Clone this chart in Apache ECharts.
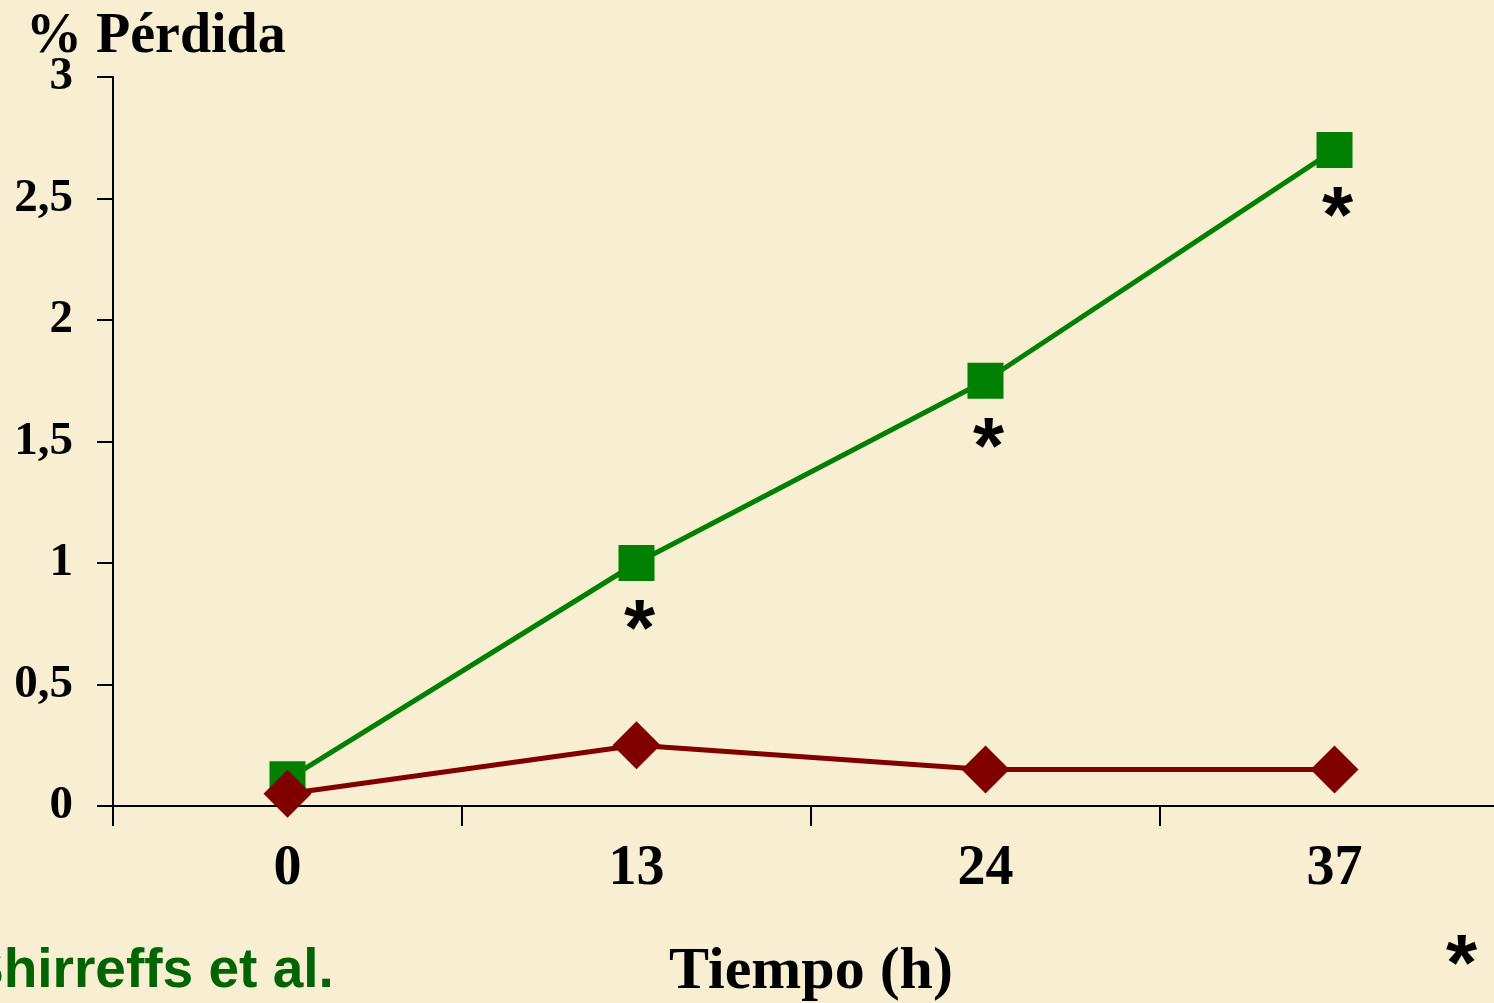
<!DOCTYPE html>
<html>
<head>
<meta charset="utf-8">
<script src="https://cdn.jsdelivr.net/npm/echarts@6/dist/echarts.min.js"></script>
<style>
  html, body { margin: 0; padding: 0; background: #f8eed2; }
  #chart { width: 1494px; height: 1003px; }
</style>
</head>
<body>
<div id="chart"></div>
<script>
  // datos
  var horas = ['0', '13', '24', '37'];
  var perdidaVerde = [0.11, 1.0, 1.75, 2.7];
  var perdidaRoja = [0.05, 0.25, 0.15, 0.15];
  var significativo = [false, true, true, true];

  var chart = echarts.init(document.getElementById('chart'));
  var serif = '"Liberation Serif", "Times New Roman", serif';
  var sans = '"Liberation Sans", Arial, sans-serif';

  var verdeData = perdidaVerde.map(function (v, i) {
    return {
      value: v,
      label: { show: significativo[i] }
    };
  });

  var option = {
    backgroundColor: '#f8eed2',
    animation: false,
    grid: { left: 113, width: 1396, top: 77, bottom: 197, outerBoundsMode: 'none', containLabel: false },
    graphic: [
      { type: 'text', left: 26, top: 10, style: { text: '% Pérdida', font: 'bold 56px ' + serif, fill: '#000' } },
      { type: 'text', left: -33, top: 944, style: { text: 'Shirreffs et al.', font: 'bold 55px ' + sans, fill: '#006400' } },
      { type: 'text', left: 1446, top: 928, style: { text: '*', font: 'bold 80px ' + sans, fill: '#000' } }
    ],
    xAxis: {
      type: 'category',
      data: horas,
      boundaryGap: true,
      name: 'Tiempo (h)',
      nameLocation: 'middle',
      nameGap: 136,
      nameTextStyle: { fontFamily: serif, fontWeight: 'bold', fontSize: 60, color: '#000' },
      axisLine: { lineStyle: { color: '#000', width: 2 } },
      axisTick: { show: true, length: 20, inside: false, lineStyle: { color: '#000', width: 2 } },
      axisLabel: { fontFamily: serif, fontWeight: 'bold', fontSize: 56, color: '#000', margin: 36 },
      splitLine: { show: false }
    },
    yAxis: {
      type: 'value',
      min: 0,
      max: 3,
      interval: 0.5,
      axisLine: { show: true, lineStyle: { color: '#000', width: 2 } },
      axisTick: { show: true, length: 16, lineStyle: { color: '#000', width: 2 } },
      axisLabel: {
        fontFamily: serif, fontWeight: 'bold', fontSize: 47, color: '#000', margin: 40,
        formatter: function (v) { return String(v).replace('.', ','); }
      },
      splitLine: { show: false }
    },
    series: [
      {
        type: 'line',
        data: verdeData,
        symbol: 'rect',
        symbolSize: 36,
        itemStyle: { color: '#008000' },
        lineStyle: { color: '#008000', width: 5 },
        label: {
          position: 'bottom',
          distance: 12,
          offset: [3, 0],
          formatter: '*',
          fontFamily: sans,
          fontWeight: 'bold',
          fontSize: 80,
          color: '#000'
        },
        z: 2
      },
      {
        type: 'line',
        data: perdidaRoja,
        symbol: 'diamond',
        symbolSize: [48, 48],
        itemStyle: { color: '#800000' },
        lineStyle: { color: '#800000', width: 5 },
        z: 3
      }
    ]
  };

  chart.setOption(option);
</script>
</body>
</html>
